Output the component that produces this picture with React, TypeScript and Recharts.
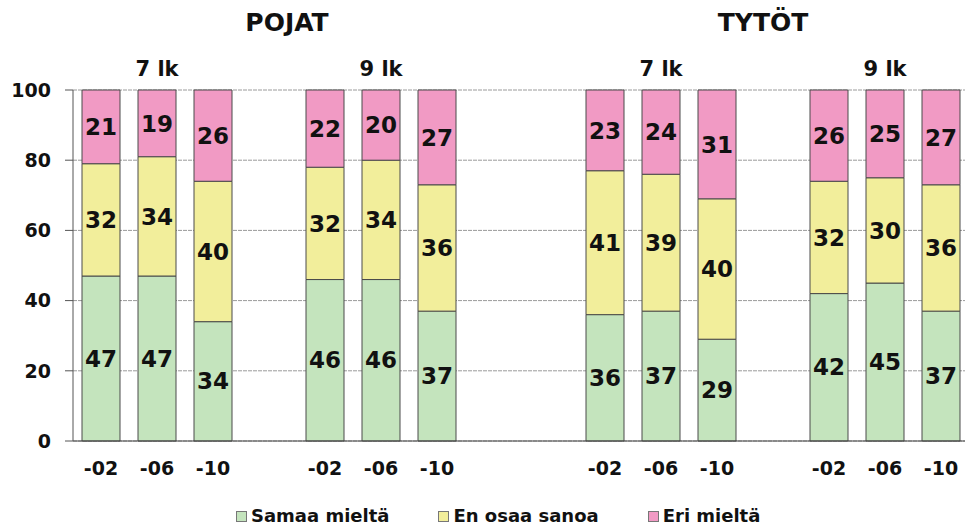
import { BarChart, Bar, XAxis, YAxis, CartesianGrid, LabelList } from "recharts";

const years = ["-02", "-06", "-10"];
const grades = ["7 lk", "9 lk", "7 lk", "9 lk"];
const gapsBefore = [0, 1, 2, 1];
const genders = ["POJAT", "TYTÖT"];

const samaaMielta = [47, 47, 34, 46, 46, 37, 36, 37, 29, 42, 45, 37];
const enOsaaSanoa = [32, 34, 40, 32, 34, 36, 41, 39, 40, 32, 30, 36];
const eriMielta = [21, 19, 26, 22, 20, 27, 23, 24, 31, 26, 25, 27];

const yTicks = [0, 20, 40, 60, 80, 100];

const FONT = "'DejaVu Sans', Verdana, sans-serif";

const series = [
  { key: "samaa", name: "Samaa mieltä", color: "#C4E4BD", values: samaaMielta },
  { key: "enOsaa", name: "En osaa sanoa", color: "#F2EE9B", values: enOsaaSanoa },
  { key: "eri", name: "Eri mieltä", color: "#F19AC4", values: eriMielta },
];

// build one row per slot, with empty slots between the groups
const data: any[] = [];
grades.forEach((grade, g) => {
  for (let i = 0; i < gapsBefore[g]; i++) {
    data.push({ year: "", grade: "", samaa: null, enOsaa: null, eri: null });
  }
  years.forEach((year, i) => {
    const idx = g * years.length + i;
    const row: any = { year, grade: i === 1 ? grade : "" };
    series.forEach((s) => (row[s.key] = s.values[idx]));
    data.push(row);
  });
});

const GradeTick = (props: any) => {
  const { x, y, payload } = props;
  if (!payload || !payload.value) return <g />;
  return (
    <text
      x={x}
      y={y - 14}
      textAnchor="middle"
      fontFamily={FONT}
      fontWeight="bold"
      fontSize={21}
      fill="#111"
    >
      {payload.value}
    </text>
  );
};

const titlePos = [287, 763];

export default function App() {
  return (
    <div
      style={{
        position: "absolute",
        left: 0,
        top: 0,
        width: 965,
        height: 527,
        overflow: "hidden",
        background: "#fff",
        fontFamily: FONT,
      }}
    >
      {genders.map((g, i) => (
        <div
          key={g}
          style={{
            position: "absolute",
            left: titlePos[i],
            top: 8,
            transform: "translateX(-50%)",
            fontSize: 25,
            fontWeight: "bold",
            color: "#111",
            lineHeight: "30px",
          }}
        >
          {g}
        </div>
      ))}
      <BarChart
        width={970}
        height={527}
        data={data}
        margin={{ top: 30, right: 1, bottom: 0, left: 0 }}
        style={{ position: "absolute", left: 0, top: 0 }}
      >
        <CartesianGrid vertical={false} stroke="#9a9a9a" strokeDasharray="4 1" />
        <XAxis
          xAxisId="top"
          orientation="top"
          dataKey="grade"
          height={60}
          axisLine={false}
          tickLine={false}
          tickSize={0}
          tickMargin={0}
          interval={0}
          tick={<GradeTick />}
        />
        <XAxis
          dataKey="year"
          height={86}
          interval={0}
          tickLine={false}
          tickSize={0}
          tickMargin={21}
          axisLine={{ stroke: "#444" }}
          tick={{ fontFamily: FONT, fontWeight: "bold", fontSize: 19, fill: "#111" }}
        />
        <YAxis
          width={73}
          domain={[0, 100]}
          ticks={yTicks}
          interval={0}
          tickSize={8}
          tickMargin={14}
          axisLine={{ stroke: "#555" }}
          tickLine={{ stroke: "#555" }}
          tick={{ fontFamily: FONT, fontWeight: "bold", fontSize: 19, fill: "#111" }}
        />
        {series.map((s) => (
          <Bar
            key={s.key}
            dataKey={s.key}
            name={s.name}
            stackId="a"
            fill={s.color}
            stroke="#4a4a4a"
            strokeWidth={1}
            barSize={38}
            isAnimationActive={false}
          >
            <LabelList
              dataKey={s.key}
              position="center"
              formatter={(v: any) => (v == null ? "" : v)}
              style={{ fontFamily: FONT, fontWeight: "bold", fontSize: 23, fill: "#111" }}
            />
          </Bar>
        ))}
      </BarChart>
      <div
        style={{
          position: "absolute",
          left: 236,
          top: 505,
          display: "flex",
          alignItems: "center",
          fontSize: 18,
          fontWeight: "bold",
          color: "#111",
          lineHeight: "22px",
        }}
      >
        {series.map((s) => (
          <div key={s.key} style={{ display: "flex", alignItems: "center", marginRight: 49 }}>
            <span
              style={{
                display: "inline-block",
                width: 9,
                height: 9,
                background: s.color,
                border: "1px solid #777",
                marginRight: 4,
              }}
            />
            {s.name}
          </div>
        ))}
      </div>
    </div>
  );
}
